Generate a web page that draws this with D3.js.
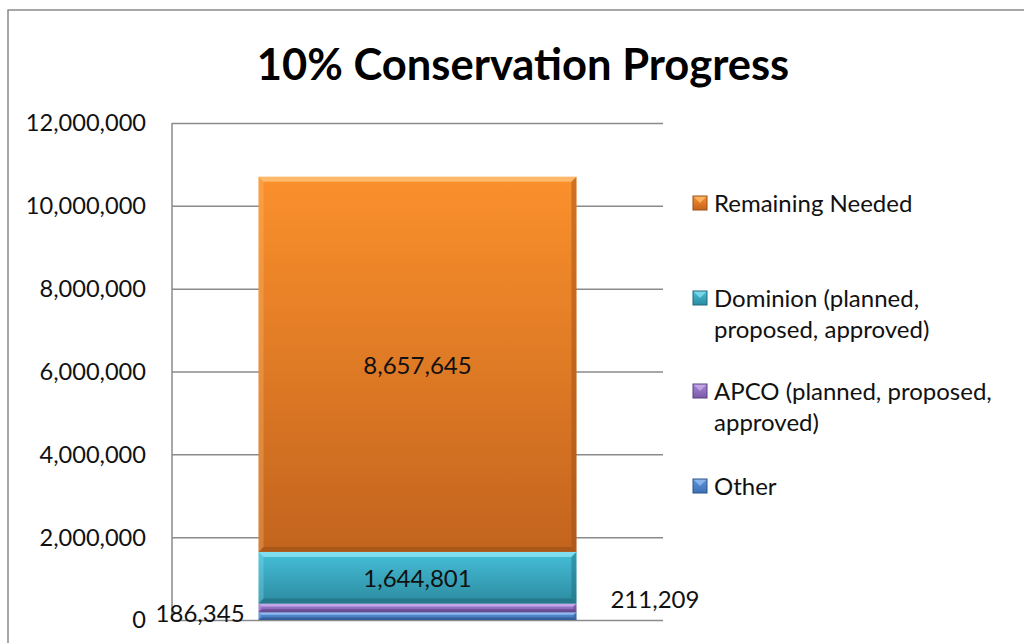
<!DOCTYPE html>
<html>
<head>
<meta charset="utf-8">
<script src="https://cdn.jsdelivr.net/npm/d3@7"></script>
<style>
  body { margin: 0; background: #fff; }
  svg { display: block; font-family: Lato, "Open Sans", sans-serif; }
</style>
</head>
<body>
<div id="chart"></div>
<script>
// data
const categories = ["Total"];
const seriesNames = ["Other", "APCO (planned, proposed, approved)", "Dominion (planned, proposed, approved)", "Remaining Needed"];
// segment heights as drawn in the picture
const seriesValues = [186345, 211209, 1247247, 9055199];
// numbers printed on the labels
const labelValues = [186345, 211209, 1644801, 8657645];
const yTicks = [0, 2000000, 4000000, 6000000, 8000000, 10000000, 12000000];
const legendOrder = ["Remaining Needed", "Dominion (planned, proposed, approved)", "APCO (planned, proposed, approved)", "Other"];
const legendLines = [["Remaining Needed"], ["Dominion (planned,", "proposed, approved)"], ["APCO (planned, proposed,", "approved)"], ["Other"]];

const width = 1024, height = 643;
const margins = { top: 123, right: 361, bottom: 23, left: 172 };

const colors = {
  "Remaining Needed": { top: "#fb902c", bottom: "#c3641e", light: "#ffc47a", dark: "#9a4e17" },
  "Dominion (planned, proposed, approved)": { top: "#45bfd8", bottom: "#2c8ba0", light: "#8fe6f5", dark: "#216b7b" },
  "APCO (planned, proposed, approved)": { top: "#a885d6", bottom: "#7a5aa8", light: "#cdb2f0", dark: "#59407e" },
  "Other": { top: "#5e95dc", bottom: "#3e6fb2", light: "#9cc3f5", dark: "#2d5289" }
};

const svg = d3.select("#chart").append("svg")
  .attr("width", width)
  .attr("height", height);

const defs = svg.append("defs");
seriesNames.forEach((s, i) => {
  const g = defs.append("linearGradient")
    .attr("id", "grad" + i)
    .attr("x1", 0).attr("x2", 0).attr("y1", 0).attr("y2", 1);
  g.append("stop").attr("offset", "0%").attr("stop-color", colors[s].top);
  g.append("stop").attr("offset", "100%").attr("stop-color", colors[s].bottom);
});

// outer chart frame
svg.append("rect")
  .attr("x", 8).attr("y", 10)
  .attr("width", 1030).attr("height", 650)
  .attr("fill", "none")
  .attr("stroke", "#8a8a8a")
  .attr("stroke-width", 1.5);

// title
svg.append("text")
  .attr("x", 523).attr("y", 80)
  .attr("text-anchor", "middle")
  .attr("font-size", "43.5px")
  .attr("font-weight", "bold")
  .attr("fill", "#000")
  .text("10% Conservation Progress");

// scales
const xScale = d3.scaleBand()
  .domain(categories)
  .range([margins.left, width - margins.right])
  .padding(0.214);

const yScale = d3.scaleLinear()
  .domain([0, 12000000])
  .range([height - margins.bottom, margins.top]);

// grid
svg.append("g")
  .attr("class", "grid")
  .attr("transform", `translate(${margins.left},0)`)
  .call(d3.axisLeft(yScale)
    .tickValues(yTicks)
    .tickSize(-(width - margins.left - margins.right))
    .tickFormat(""))
  .call(g => g.select(".domain").remove())
  .selectAll("line")
  .attr("stroke", "#8a8a8a")
  .attr("stroke-width", 1.5);

// y axis line + labels
svg.append("line")
  .attr("x1", margins.left).attr("x2", margins.left)
  .attr("y1", yScale(12000000)).attr("y2", yScale(0))
  .attr("stroke", "#8a8a8a")
  .attr("stroke-width", 1.5);

svg.append("g")
  .selectAll("text")
  .data(yTicks)
  .join("text")
  .attr("x", 146)
  .attr("y", d => yScale(d))
  .attr("dy", "0.36em")
  .attr("text-anchor", "end")
  .attr("font-size", "23.6px")
  .attr("fill", "#111")
  .text(d => d3.format(",")(d));

// stack
const row = { cat: categories[0] };
seriesNames.forEach((s, i) => row[s] = seriesValues[i]);
const stacked = d3.stack().keys(seriesNames)([row]);

const bw = xScale.bandwidth();
const bx = xScale(categories[0]);

const segs = svg.append("g").selectAll("g.seg")
  .data(stacked)
  .join("g")
  .attr("class", "seg");

const segH = d => yScale(d[0][0]) - yScale(d[0][1]);
const bev = d => Math.min(5, segH(d) / 3);

segs.append("rect")
  .attr("x", bx)
  .attr("y", d => yScale(d[0][1]))
  .attr("width", bw)
  .attr("height", segH)
  .attr("fill", (d, i) => `url(#grad${i})`);

// bevel: light top edge, dark bottom/right edge
segs.append("path")
  .attr("d", d => {
    const y0 = yScale(d[0][1]), b = bev(d);
    return `M${bx},${y0} L${bx + bw},${y0} L${bx + bw - b},${y0 + b} L${bx + b},${y0 + b} Z`;
  })
  .attr("fill", d => colors[d.key].light)
  .attr("opacity", 0.8);
segs.append("path")
  .attr("d", d => {
    const y0 = yScale(d[0][1]), y1 = yScale(d[0][0]), b = bev(d);
    return `M${bx},${y1} L${bx + bw},${y1} L${bx + bw - b},${y1 - b} L${bx + b},${y1 - b} Z`;
  })
  .attr("fill", d => colors[d.key].dark)
  .attr("opacity", 0.6);
segs.append("path")
  .attr("d", d => {
    const y0 = yScale(d[0][1]), y1 = yScale(d[0][0]), b = bev(d);
    return `M${bx + bw},${y0} L${bx + bw},${y1} L${bx + bw - b},${y1 - b} L${bx + bw - b},${y0 + b} Z`;
  })
  .attr("fill", d => colors[d.key].dark)
  .attr("opacity", 0.45);
segs.append("path")
  .attr("d", d => {
    const y0 = yScale(d[0][1]), y1 = yScale(d[0][0]), b = bev(d);
    return `M${bx},${y0} L${bx},${y1} L${bx + b},${y1 - b} L${bx + b},${y0 + b} Z`;
  })
  .attr("fill", d => colors[d.key].light)
  .attr("opacity", 0.3);

// value labels
const fmt = d3.format(",");
const labelPos = {
  "Remaining Needed": d => ({ x: bx + bw / 2, y: (yScale(d[0][0]) + yScale(d[0][1])) / 2 + 1, anchor: "middle" }),
  "Dominion (planned, proposed, approved)": d => ({ x: bx + bw / 2, y: (yScale(d[0][0]) + yScale(d[0][1])) / 2 + 1, anchor: "middle" }),
  "APCO (planned, proposed, approved)": d => ({ x: bx + bw + 34, y: yScale(d[0][1]) - 4, anchor: "start" }),
  "Other": d => ({ x: bx - 14, y: yScale(d[0][1]) + 1, anchor: "end" })
};

svg.append("g").selectAll("text")
  .data(stacked)
  .join("text")
  .each(function(d) {
    const p = labelPos[d.key](d);
    d3.select(this)
      .attr("x", p.x).attr("y", p.y)
      .attr("dy", "0.36em")
      .attr("text-anchor", p.anchor);
  })
  .attr("font-size", "24px")
  .attr("fill", "#111")
  .text((d, i) => fmt(labelValues[i]));

// legend
const legendY = [203, 298, 391, 486];
const legend = svg.append("g");
const items = legend.selectAll("g")
  .data(legendOrder)
  .join("g")
  .attr("transform", (d, i) => `translate(693,${legendY[i]})`);

items.append("rect")
  .attr("x", 0).attr("y", -7)
  .attr("width", 14).attr("height", 14)
  .attr("fill", d => `url(#grad${seriesNames.indexOf(d)})`);
items.append("path")
  .attr("d", "M0,-7 L14,-7 L7,0 Z")
  .attr("fill", d => colors[d].light)
  .attr("opacity", 0.7);
items.append("rect")
  .attr("x", 0).attr("y", -7)
  .attr("width", 14).attr("height", 14)
  .attr("fill", "none")
  .attr("stroke", d => colors[d].dark)
  .attr("stroke-width", 1);

items.append("text")
  .attr("x", 21)
  .attr("font-size", "24px")
  .attr("fill", "#111")
  .selectAll("tspan")
  .data((d, i) => legendLines[i])
  .join("tspan")
  .attr("x", 21)
  .attr("y", (d, i) => i * 31)
  .attr("dy", "0.36em")
  .text(d => d);
</script>
</body>
</html>
